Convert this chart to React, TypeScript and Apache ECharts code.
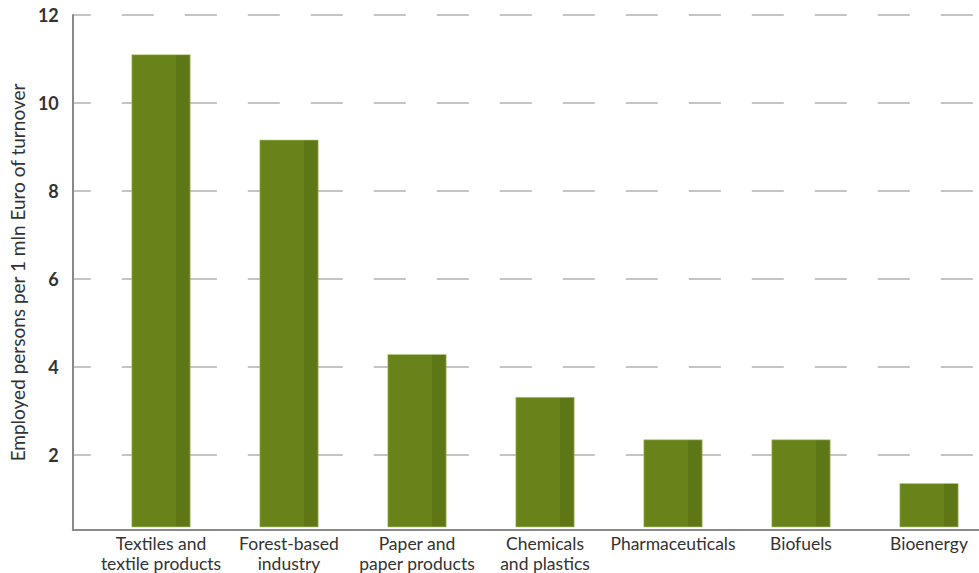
import React, { useEffect, useRef } from "react";
import * as echarts from "echarts";

const categories = [
  "Textiles and\ntextile products",
  "Forest-based\nindustry",
  "Paper and\npaper products",
  "Chemicals\nand plastics",
  "Pharmaceuticals",
  "Biofuels",
  "Bioenergy",
];
const values = [11.1, 9.15, 4.25, 3.27, 2.3, 2.3, 1.3];
const yTicks = [2, 4, 6, 8, 10, 12];
const yTitle = "Employed persons per 1 mln Euro of turnover";

const FONT = "Lato";

export default function App() {
  const ref = useRef<HTMLDivElement>(null);
  useEffect(() => {
    document.body.style.margin = "0";
    const chart = echarts.init(ref.current!, null, { renderer: "svg" });
    const barColor = {
      type: "linear",
      x: 0,
      y: 0,
      x2: 1,
      y2: 0,
      colorStops: [
        { offset: 0, color: "#678319" },
        { offset: 0.76, color: "#678319" },
        { offset: 0.76, color: "#5d7715" },
        { offset: 1, color: "#5d7715" },
      ],
    };
    chart.setOption({
      animation: false,
      grid: [
        { left: 71, right: 0, top: 15, bottom: 43 },
        { left: 71, width: 896, top: 15, bottom: 43 },
      ],
      xAxis: [
        {
          gridIndex: 0,
          type: "value",
          min: 0,
          max: 1,
          axisLine: { show: true, onZero: false, lineStyle: { color: "#8a8a8a", width: 2 } },
          axisTick: { show: false },
          axisLabel: { show: false },
          splitLine: { show: false },
        },
        {
          gridIndex: 1,
          type: "category",
          data: categories,
          axisLine: { show: false },
          axisTick: { show: false },
          axisLabel: {
            interval: 0,
            margin: 6,
            fontFamily: FONT,
            fontSize: 17.5,
            lineHeight: 20,
            color: "#333333",
            padding: [0, 0, 0, 52],
          },
        },
      ],
      yAxis: [
        {
          gridIndex: 0,
          type: "value",
          min: 0.3,
          max: yTicks[yTicks.length - 1],
          axisLine: { show: true, lineStyle: { color: "#8a8a8a", width: 2 } },
          axisTick: { show: false },
          axisLabel: {
            showMinLabel: false,
            margin: 14,
            fontFamily: FONT,
            fontSize: 18,
            fontWeight: "bold",
            color: "#333333",
            formatter: (v: number) => (yTicks.includes(v) ? String(v) : ""),
          },
          splitLine: {
            show: true,
            lineStyle: { color: "#c4c4c4", width: 2, type: [32, 31], dashOffset: 14 },
          },
          name: yTitle,
          nameLocation: "middle",
          nameGap: 43,
          nameTextStyle: { fontFamily: FONT, fontSize: 19, color: "#333333" },
        },
        {
          gridIndex: 1,
          type: "value",
          min: 0.3,
          max: yTicks[yTicks.length - 1],
          show: false,
          splitLine: { show: false },
        },
      ],
      series: [
        {
          type: "bar",
          xAxisIndex: 1,
          yAxisIndex: 1,
          data: [],
          barWidth: 59,
          barGap: "-11.864%",
          silent: true,
        },
        {
          type: "bar",
          xAxisIndex: 1,
          yAxisIndex: 1,
          data: values,
          barWidth: 59,
          barGap: "-11.864%",
          itemStyle: { color: barColor, borderColor: "#b9cc8a", borderWidth: 0.6 },
        },
      ],
    });
    return () => chart.dispose();
  }, []);
  return <div ref={ref} style={{ width: 979, height: 573 }} />;
}
